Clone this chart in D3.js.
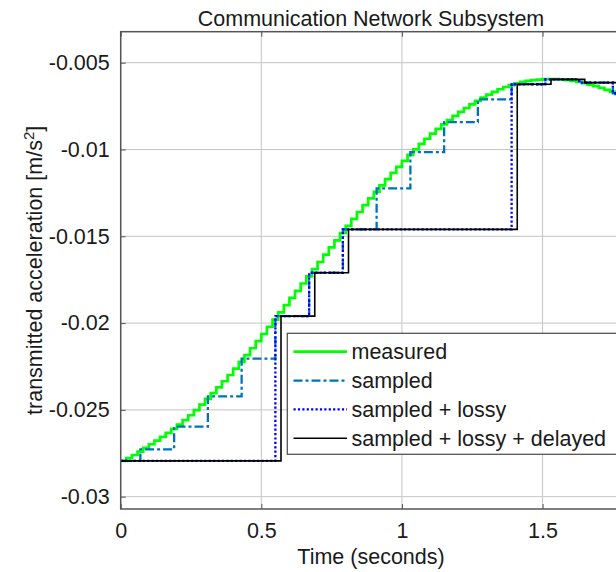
<!DOCTYPE html>
<html>
<head>
<meta charset="utf-8">
<script src="https://cdn.jsdelivr.net/npm/d3@7"></script>
<style>
  body { margin: 0; background: #fff; }
  svg { display: block; font-family: "Liberation Sans", Arial, sans-serif; }
</style>
</head>
<body>
<svg id="chart"></svg>
<script>
// axis ticks
const xTicks = [0, 0.5, 1, 1.5];
const xTickLabels = ['0', '0.5', '1', '1.5'];
const yTicks = [-0.03, -0.025, -0.02, -0.015, -0.01, -0.005];
const yTickLabels = ['-0.03', '-0.025', '-0.02', '-0.015', '-0.01', '-0.005'];

// measured signal, every 0.02 s starting at t = 0
const measuredStart = 0;
const measuredDt = 0.02;
const measured = [
  -0.02794, -0.02778, -0.02760, -0.02740, -0.02719, -0.02698, -0.02677, -0.02655, -0.02632, -0.02609,
  -0.02585, -0.02559, -0.02531, -0.02501, -0.02470, -0.02437, -0.02404, -0.02370, -0.02335, -0.02299,
  -0.02262, -0.02224, -0.02185, -0.02145, -0.02104, -0.02063, -0.02021, -0.01980, -0.01938, -0.01897,
  -0.01855, -0.01814, -0.01772, -0.01731, -0.01689, -0.01648, -0.01606, -0.01564, -0.01523, -0.01481,
  -0.01440, -0.01400, -0.01360, -0.01321, -0.01282, -0.01244, -0.01207, -0.01171, -0.01135, -0.01100,
  -0.01065, -0.01031, -0.00999, -0.00968, -0.00938, -0.00909, -0.00881, -0.00855, -0.00830, -0.00806,
  -0.00783, -0.00761, -0.00740, -0.00720, -0.00701, -0.00684, -0.00668, -0.00653, -0.00640, -0.00629,
  -0.00619, -0.00611, -0.00605, -0.00600, -0.00597, -0.00595, -0.00594, -0.00594, -0.00596, -0.00600,
  -0.00605, -0.00611, -0.00618, -0.00626, -0.00635, -0.00645, -0.00656, -0.00668, -0.00681, -0.00694
];

// sampled (zero-order hold)
const sampledTimes = [0, 0.07, 0.19, 0.31, 0.43, 0.55, 0.67, 0.79, 0.91, 1.03, 1.15, 1.27, 1.39, 1.51, 1.63, 1.75];
const sampledValues = [-0.02794, -0.02727, -0.02597, -0.02422, -0.02205, -0.01960, -0.01710, -0.01460,
  -0.01224, -0.01015, -0.00842, -0.00711, -0.00624, -0.00596, -0.00615, -0.00676];

// sampled + lossy (packets that got through)
const lossyTimes = [0, 0.55, 0.67, 0.79, 1.39, 1.51, 1.63, 1.75];
const lossyValues = [-0.02794, -0.01960, -0.01710, -0.01460, -0.00624, -0.00596, -0.00615, -0.00676];

// sampled + lossy + delayed
const delayedTimes = [0, 0.57, 0.69, 0.81, 1.41, 1.53, 1.65, 1.77];
const delayedValues = [-0.02794, -0.01960, -0.01710, -0.01460, -0.00624, -0.00596, -0.00615, -0.00676];

const seriesNames = ['measured', 'sampled', 'sampled + lossy', 'sampled + lossy + delayed'];

const width = 616;
const height = 572;
const marginTop = 31.7;
const marginLeft = 120.7;
const plotRight = 621.3;
const plotBottom = 509;

const svg = d3.select('#chart')
  .attr('width', width)
  .attr('height', height)
  .attr('viewBox', [0, 0, width, height]);

const x = d3.scaleLinear().domain([0, 1.78]).range([marginLeft, plotRight]);
const y = d3.scaleLinear().domain([-0.03071, -0.003214]).range([plotBottom, marginTop]);

const textColor = '#1a1a1a';
const axisColor = '#555';
const fontSize = 21.5;

svg.append('defs').append('clipPath').attr('id', 'plot-clip')
  .append('rect')
  .attr('x', marginLeft).attr('y', marginTop)
  .attr('width', plotRight - marginLeft).attr('height', plotBottom - marginTop);

// grid
const grid = svg.append('g').attr('stroke', '#c4c4c4').attr('stroke-width', 1);
grid.selectAll('.gx').data(xTicks).join('line')
  .attr('x1', (d) => x(d)).attr('x2', (d) => x(d))
  .attr('y1', marginTop).attr('y2', plotBottom);
grid.selectAll('.gy').data(yTicks).join('line')
  .attr('x1', marginLeft).attr('x2', plotRight)
  .attr('y1', (d) => y(d)).attr('y2', (d) => y(d));

// lines
const plot = svg.append('g').attr('clip-path', 'url(#plot-clip)');
const xEnd = x.domain()[1];

const stepLine = d3.line()
  .x((d) => x(d[0]))
  .y((d) => y(d[1]))
  .curve(d3.curveStepAfter);

const withTail = (times, values) => {
  const pts = times.map((t, i) => [t, values[i]]);
  pts.push([xEnd, values[values.length - 1]]);
  return pts;
};

const measuredPts = measured.map((v, i) => [measuredStart + i * measuredDt, v]);

const styles = [
  { color: '#00ff00', width: 2.7, dash: null },
  { color: '#0072bd', width: 2.3, dash: '9,3,3,3' },
  { color: '#0000ff', width: 2.3, dash: '2.2,2.2' },
  { color: '#000000', width: 1.6, dash: null }
];

const seriesData = [
  measuredPts,
  withTail(sampledTimes, sampledValues),
  withTail(lossyTimes, lossyValues),
  withTail(delayedTimes, delayedValues)
];

plot.selectAll('path')
  .data(seriesData)
  .join('path')
  .attr('fill', 'none')
  .attr('stroke', (d, i) => styles[i].color)
  .attr('stroke-width', (d, i) => styles[i].width)
  .attr('stroke-dasharray', (d, i) => styles[i].dash)
  .attr('d', stepLine);

// axes box and inward ticks
svg.append('rect')
  .attr('x', marginLeft).attr('y', marginTop)
  .attr('width', plotRight - marginLeft).attr('height', plotBottom - marginTop)
  .attr('fill', 'none').attr('stroke', axisColor).attr('stroke-width', 1.5);

svg.append('g')
  .attr('transform', `translate(0,${plotBottom})`)
  .call(d3.axisBottom(x).tickValues(xTicks).tickSize(-5).tickPadding(14)
    .tickFormat((d, i) => xTickLabels[i]))
  .call((g) => g.select('.domain').remove())
  .call((g) => g.selectAll('line').attr('stroke', axisColor))
  .call((g) => g.selectAll('text')
    .attr('fill', textColor).attr('font-size', fontSize).attr('font-family', null));

svg.append('g')
  .attr('transform', `translate(0,${marginTop})`)
  .call(d3.axisTop(x).tickValues(xTicks).tickSize(-5).tickFormat(''))
  .call((g) => g.select('.domain').remove())
  .call((g) => g.selectAll('line').attr('stroke', axisColor));

svg.append('g')
  .attr('transform', `translate(${marginLeft},0)`)
  .call(d3.axisLeft(y).tickValues(yTicks).tickSize(-5).tickPadding(11)
    .tickFormat((d, i) => yTickLabels[i]))
  .call((g) => g.select('.domain').remove())
  .call((g) => g.selectAll('line').attr('stroke', axisColor))
  .call((g) => g.selectAll('text')
    .attr('fill', textColor).attr('font-size', fontSize).attr('font-family', null));

// title and axis labels
svg.append('text')
  .attr('x', (marginLeft + plotRight) / 2).attr('y', 26)
  .attr('text-anchor', 'middle').attr('fill', textColor).attr('font-size', fontSize)
  .text('Communication Network Subsystem');

svg.append('text')
  .attr('x', (marginLeft + plotRight) / 2).attr('y', 564)
  .attr('text-anchor', 'middle').attr('fill', textColor).attr('font-size', fontSize)
  .text('Time (seconds)');

const yLabel = svg.append('text')
  .attr('transform', `translate(42,${(marginTop + plotBottom) / 2}) rotate(-90)`)
  .attr('text-anchor', 'middle').attr('fill', textColor).attr('font-size', fontSize);
yLabel.append('tspan').text('transmitted acceleration [m/s');
yLabel.append('tspan').attr('font-size', fontSize * 0.7).attr('dy', -8).text('2');
yLabel.append('tspan').attr('dy', 8).text(']');

// legend
const legend = svg.append('g');
legend.append('rect')
  .attr('x', 287.3).attr('y', 333.3).attr('width', 340).attr('height', 121)
  .attr('fill', '#fff').attr('stroke', '#555').attr('stroke-width', 1.3);

const legendRow = d3.scaleLinear().domain([0, 3]).range([351.7, 438.3]);
const items = legend.selectAll('g.item').data(seriesNames).join('g')
  .attr('transform', (d, i) => `translate(0,${legendRow(i)})`);
items.append('line')
  .attr('x1', 293.5).attr('x2', 347)
  .attr('stroke', (d, i) => styles[i].color)
  .attr('stroke-width', (d, i) => styles[i].width)
  .attr('stroke-dasharray', (d, i) => styles[i].dash);
items.append('text')
  .attr('x', 351.5).attr('y', 7.5)
  .attr('fill', textColor).attr('font-size', fontSize)
  .text((d) => d);
</script>
</body>
</html>
